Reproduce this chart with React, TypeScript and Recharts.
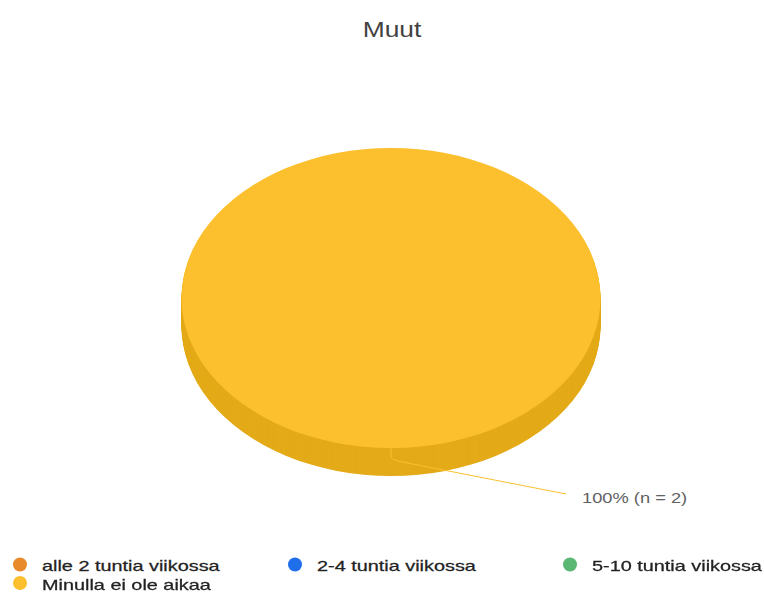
import React from 'react';
import { PieChart, Pie, Cell, Legend, Sector, Customized } from 'recharts';

const TITLE = 'Muut';
const CATEGORIES = ['alle 2 tuntia viikossa', '2-4 tuntia viikossa', '5-10 tuntia viikossa', 'Minulla ei ole aikaa'];
const VALUES = [0, 0, 0, 2];
const COLORS = ['#E8892A', '#1F6FEB', '#5BB874', '#FCC02E'];
const SIDE_COLORS = ['#C97418', '#1656C0', '#479A5D', '#E4AA18'];

const data = CATEGORIES.map((name, i) => ({ name, value: VALUES[i] }));

const W = 756;
const H = 585;
const SQUASH = 0.716;
const DEPTH = 28;
const FONT = "'Liberation Sans', Arial, sans-serif";

const squashT = (cy: number) => `translate(0 ${cy}) scale(1 ${SQUASH}) translate(0 ${-cy})`;

const Slice3D = (props: any) => {
  const { cx, cy, innerRadius, outerRadius, startAngle, endAngle, fill } = props;
  if (startAngle === endAngle) return null;
  const nm = props.name ?? props.payload?.name;
  const idx = CATEGORIES.indexOf(nm);
  const side = SIDE_COLORS[idx >= 0 ? idx : 3];
  const layers: number[] = [];
  for (let d = DEPTH; d >= 1; d--) layers.push(d);
  const sp = { cx, cy, innerRadius, outerRadius, startAngle, endAngle };
  return (
    <g>
      {layers.map((d) => (
        <g key={d} transform={`translate(0 ${d})`}>
          <g transform={squashT(cy)}>
            <Sector {...sp} fill={side} stroke="none" />
          </g>
        </g>
      ))}
      <g transform={squashT(cy)}>
        <Sector {...sp} fill={fill} stroke="none" />
      </g>
    </g>
  );
};

const renderLabel = (p: any) => {
  if (!p.value) return null;
  const ang = (-p.midAngle * Math.PI) / 180;
  const x0 = p.cx + p.outerRadius * Math.cos(ang);
  const y0 = p.cy + p.outerRadius * SQUASH * Math.sin(ang);
  const d = `M ${x0} ${y0} L ${x0} ${y0 + 8} Q ${x0} ${y0 + 12} ${x0 + 9} ${y0 + 13.5} L ${x0 + 175} ${y0 + 46}`;
  return (
    <g>
      <path d={d} stroke="#FCC02E" strokeWidth={1} fill="none" />
      <text
        transform={`translate(${x0 + 191} ${y0 + 55}) scale(1.22 1)`}
        fontSize={15}
        fontFamily={FONT}
        fill="#616161"
      >
        {`${Math.round(p.percent * 100)}% (n = ${p.value})`}
      </text>
    </g>
  );
};

const renderLegend = () => (
  <svg width={W} height={45} style={{ display: 'block', overflow: 'visible' }}>
    {CATEGORIES.map((name, i) => {
      const col = i % 3;
      const row = Math.floor(i / 3);
      const cx = 12 + col * 275;
      const cy = 16.5 + row * 18.5;
      return (
        <g key={name}>
          <circle cx={cx} cy={cy} r={7} fill={COLORS[i]} />
          <text
            transform={`translate(${cx + 22} ${cy + 6.5}) scale(1.37 1)`}
            fontSize={14.5}
            fontFamily={FONT}
            fill="#222"
            stroke="#222"
            strokeWidth={0.25}
          >
            {name}
          </text>
        </g>
      );
    })}
  </svg>
);

const Title = () => (
  <text
    transform={`translate(384 29) scale(1.2 1)`}
    textAnchor="middle"
    fontSize={22}
    fontFamily={FONT}
    fill="#424242"
  >
    {TITLE}
  </text>
);

export default function App() {
  return (
    <div style={{ position: 'fixed', left: 8, top: 8, width: W, height: H, background: '#fff' }}>
      <PieChart width={W} height={H} margin={{ top: 0, right: 0, bottom: 0, left: 0 }}>
        <Customized component={Title} />
        <Pie
          data={data}
          dataKey="value"
          nameKey="name"
          cx={383}
          cy={290}
          innerRadius={0}
          outerRadius={209.5}
          startAngle={90}
          endAngle={-270}
          stroke="none"
          isAnimationActive={false}
          shape={Slice3D}
          inactiveShape={Slice3D}
          activeShape={Slice3D}
          label={renderLabel}
          labelLine={false}
        >
          {data.map((d, i) => (
            <Cell key={d.name} fill={COLORS[i]} />
          ))}
        </Pie>
        <Legend
          verticalAlign="bottom"
          content={renderLegend}
          wrapperStyle={{ left: 0, top: 540, width: W, height: 45 }}
        />
      </PieChart>
    </div>
  );
}
